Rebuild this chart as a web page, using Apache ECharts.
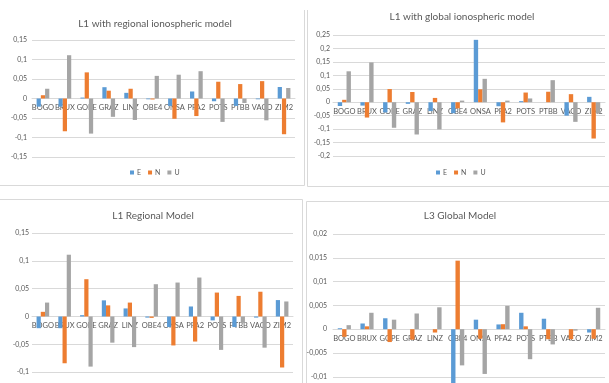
<!DOCTYPE html>
<html>
<head>
<meta charset="utf-8">
<script src="https://cdn.jsdelivr.net/npm/echarts@6/dist/echarts.min.js"></script>
<style>
  html, body { margin: 0; padding: 0; background: #fff; overflow: hidden; }
  #chart { width: 609px; height: 383px; }
</style>
</head>
<body>
<div id="chart"></div>
<script>
// Stations on the category axis
const stations = ['BOGO', 'BRUX', 'GOPE', 'GRAZ', 'LINZ', 'OBE4', 'ONSA', 'PFA2', 'POTS', 'PTBB', 'VACO', 'ZIM2'];

// L1 with regional ionospheric model (E, N, U differences)
const regionalE = [-0.021, -0.021, 0.0024, 0.029, 0.0145, -0.002, -0.019, 0.018, -0.007, -0.019, -0.002, 0.0295];
const regionalN = [0.0084, -0.084, 0.067, 0.020, 0.025, -0.0025, -0.052, -0.045, 0.043, 0.037, 0.0445, -0.0916];
const regionalU = [0.025, 0.111, -0.090, -0.047, -0.055, 0.058, 0.061, 0.070, -0.060, -0.0115, -0.056, 0.027];

// L1 with global ionospheric model
const globalE = [-0.014, -0.0125, -0.038, -0.006, -0.033, -0.041, 0.232, -0.015, 0.004, 0, -0.05, 0.02];
const globalN = [0.009, -0.057, 0.049, 0.038, 0.016, -0.023, 0.048, -0.075, 0.036, 0.039, 0.03, -0.135];
const globalU = [0.115, 0.148, -0.095, -0.12, -0.101, 0.006, 0.087, 0.006, 0.014, 0.082, -0.073, -0.042];

// L3 global model
const l3E = [0.0002, 0.0012, 0.0023, 0, 0, -0.014, 0.002, 0.001, 0.00345, 0.0022, 0, -0.0007];
const l3N = [-0.0016, 0.0006, -0.0027, -0.0022, -0.0007, 0.0144, -0.002, 0.00105, 0.0006, -0.0021, -0.0021, -0.002];
const l3U = [0.00085, 0.00345, 0.002, 0.0033, 0.0046, -0.0076, -0.0094, 0.0049, -0.0063, -0.0032, -0.0003, 0.0045];

// Panel titles and value-axis ranges
const titles = ['L1 with regional ionospheric model', 'L1 with global ionospheric model', 'L1 Regional Model', 'L3 Global Model'];
const ranges = [
  { min: -0.15, max: 0.15, interval: 0.05 },
  { min: -0.2, max: 0.25, interval: 0.05 },
  { min: -0.15, max: 0.15, interval: 0.05 },
  { min: -0.015, max: 0.02, interval: 0.005 }
];
const panelData = [
  [regionalE, regionalN, regionalU],
  [globalE, globalN, globalU],
  [regionalE, regionalN, regionalU],
  [l3E, l3N, l3U]
];
const seriesNames = ['E', 'N', 'U'];
const colors = ['#5b9bd5', '#ed7d31', '#a5a5a5'];

const FONT = 'Lato, "Open Sans", sans-serif';
const TEXT = '#595959';
const GRID_LINE = '#d9d9d9';

// Layout of the four plot areas
const grids = [
  { left: 32, top: 40, width: 263, height: 117 },
  { left: 333, top: 35, width: 272, height: 121 },
  { left: 32, top: 233, width: 261, height: 167 },
  { left: 333, top: 234, width: 272, height: 166.6 }
];
const labelMargins = [5, 3, 3, 6];
const titlePos = [[155, 19], [462, 12], [153, 211], [460, 211]];

function fmt(v) {
  if (Math.abs(v) < 1e-12) return '0';
  return String(+v.toFixed(4)).replace('.', ',');
}

// Category axis sits on the zero line: shift it up from the grid bottom
function zeroOffset(i) {
  const r = ranges[i];
  return -grids[i].height * (0 - r.min) / (r.max - r.min);
}

const option = {
  backgroundColor: '#ffffff',
  animation: false,
  color: colors,
  title: titles.map((t, i) => ({
    text: t,
    left: titlePos[i][0],
    top: titlePos[i][1],
    textAlign: 'center',
    padding: 0,
    textStyle: { fontFamily: FONT, fontSize: 10, fontWeight: 'normal', color: TEXT }
  })),
  legend: [
    { left: 130, top: 169 },
    { left: 436, top: 169 }
  ].map(p => Object.assign({
    data: seriesNames,
    icon: 'rect',
    itemWidth: 4,
    itemHeight: 4,
    itemGap: 7,
    padding: 0,
    textStyle: { fontFamily: FONT, fontSize: 7, color: TEXT, padding: [0, 0, 0, -2] }
  }, p)),
  grid: grids.map(g => Object.assign({ containLabel: false, outerBoundsMode: 'none' }, g)),
  xAxis: grids.map((g, i) => ({
    type: 'category',
    gridIndex: i,
    data: stations,
    position: 'bottom',
    offset: zeroOffset(i),
    axisTick: { show: false },
    axisLine: { onZero: false, lineStyle: { color: GRID_LINE, width: 1 } },
    axisLabel: { interval: 0, margin: 5, fontFamily: FONT, fontSize: 7.5, color: TEXT }
  })),
  yAxis: grids.map((g, i) => ({
    type: 'value',
    gridIndex: i,
    min: ranges[i].min,
    max: ranges[i].max,
    interval: ranges[i].interval,
    axisLine: { show: false },
    axisTick: { show: false },
    splitLine: { lineStyle: { color: GRID_LINE, width: 1 } },
    axisLabel: { margin: labelMargins[i], fontFamily: FONT, fontSize: 7, color: TEXT, formatter: fmt }
  })),
  series: [],
  graphic: [
    // panel frames
    { type: 'line', shape: { x1: 0, y1: 185.5, x2: 304.5, y2: 185.5 }, style: { stroke: GRID_LINE, lineWidth: 1 } },
    { type: 'line', shape: { x1: 304.5, y1: 10, x2: 304.5, y2: 185.5 }, style: { stroke: GRID_LINE, lineWidth: 1 } },
    { type: 'line', shape: { x1: 307.5, y1: 10, x2: 307.5, y2: 186.5 }, style: { stroke: GRID_LINE, lineWidth: 1 } },
    { type: 'line', shape: { x1: 307.5, y1: 186.5, x2: 609, y2: 186.5 }, style: { stroke: GRID_LINE, lineWidth: 1 } },
    { type: 'line', shape: { x1: 0, y1: 199.5, x2: 302.5, y2: 199.5 }, style: { stroke: GRID_LINE, lineWidth: 1 } },
    { type: 'line', shape: { x1: 302.5, y1: 199.5, x2: 302.5, y2: 383 }, style: { stroke: GRID_LINE, lineWidth: 1 } },
    { type: 'line', shape: { x1: 306.5, y1: 201.5, x2: 609, y2: 201.5 }, style: { stroke: GRID_LINE, lineWidth: 1 } },
    { type: 'line', shape: { x1: 306.5, y1: 201.5, x2: 306.5, y2: 383 }, style: { stroke: GRID_LINE, lineWidth: 1 } }
  ]
};

panelData.forEach((arrs, p) => {
  arrs.forEach((vals, s) => {
    option.series.push({
      name: seriesNames[s],
      type: 'bar',
      xAxisIndex: p,
      yAxisIndex: p,
      data: vals,
      barGap: '0%',
      barCategoryGap: '42%',
      itemStyle: { color: colors[s] }
    });
  });
});

const chart = echarts.init(document.getElementById('chart'), null, { renderer: 'canvas' });
chart.setOption(option);
</script>
</body>
</html>
